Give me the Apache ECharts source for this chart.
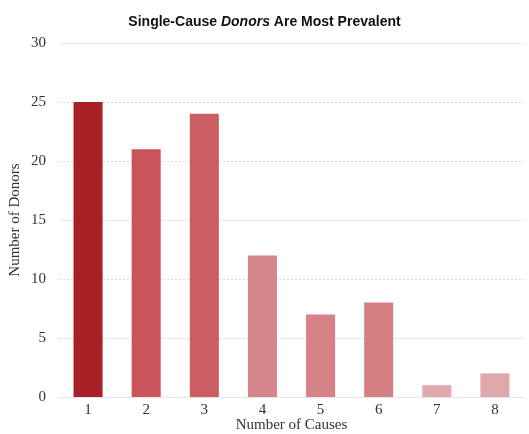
<!DOCTYPE html>
<html><head><meta charset="utf-8">
<script src="https://cdn.jsdelivr.net/npm/echarts@6/dist/echarts.min.js"></script>
<style>html,body{margin:0;padding:0;background:#fff}#c{width:529px;height:434px}</style>
</head><body><div id="c"></div>
<script>
const categories = ['1','2','3','4','5','6','7','8'];
const donors = [25, 21, 24, 12, 7, 8, 1, 2];
const barColors = ['#a81f25','#c9545a','#cb5e62','#d6868a','#d68286','#d57e83','#e0aab0','#dfa8ad'];
const yTicks = [0, 5, 10, 15, 20, 25, 30];

const chart = echarts.init(document.getElementById('c'));
chart.setOption({
  animation: false,
  title: {
    text: '{b|Single-Cause }{i|Donors}{b| Are Most Prevalent}',
    left: 'center', top: 10,
    textStyle: {
      rich: {
        b: {fontFamily: 'Liberation Sans, Arial', fontWeight: 'bold', fontSize: 14, color: '#111'},
        i: {fontFamily: 'Liberation Sans, Arial', fontWeight: 'bold', fontStyle: 'italic', fontSize: 14, color: '#111'}
      }
    }
  },
  grid: {left: 59, right: 5, top: 43, bottom: 37, containLabel: false, outerBoundsMode: 'none'},
  xAxis: {
    type: 'category', data: categories,
    axisLine: {show: true, lineStyle: {color: '#e6e6e6'}},
    axisTick: {show: false},
    axisLabel: {fontFamily: 'Liberation Serif, DejaVu Serif', fontSize: 15, color: '#333', margin: 6},
    name: 'Number of Causes', nameLocation: 'middle', nameGap: 21, nameMoveOverlap: false,
    nameTextStyle: {fontFamily: 'Liberation Serif, DejaVu Serif', fontSize: 15, color: '#333'}
  },
  yAxis: {
    type: 'value', min: yTicks[0], max: yTicks[yTicks.length-1], interval: 5,
    axisLine: {show: false}, axisTick: {show: false},
    axisLabel: {fontFamily: 'Liberation Serif, DejaVu Serif', fontSize: 15, color: '#333', margin: 13},
    splitLine: {show: true, lineStyle: {color: '#d8d8d8', type: [2, 2], width: 1}},
    name: 'Number of Donors', nameLocation: 'middle', nameGap: 36, nameMoveOverlap: false,
    nameTextStyle: {fontFamily: 'Liberation Serif, DejaVu Serif', fontSize: 15, color: '#333'}
  },
  series: [{
    type: 'bar', barWidth: '50%',
    data: donors.map((v, i) => ({value: v, itemStyle: {color: barColors[i]}}))
  }]
});
</script></body></html>
